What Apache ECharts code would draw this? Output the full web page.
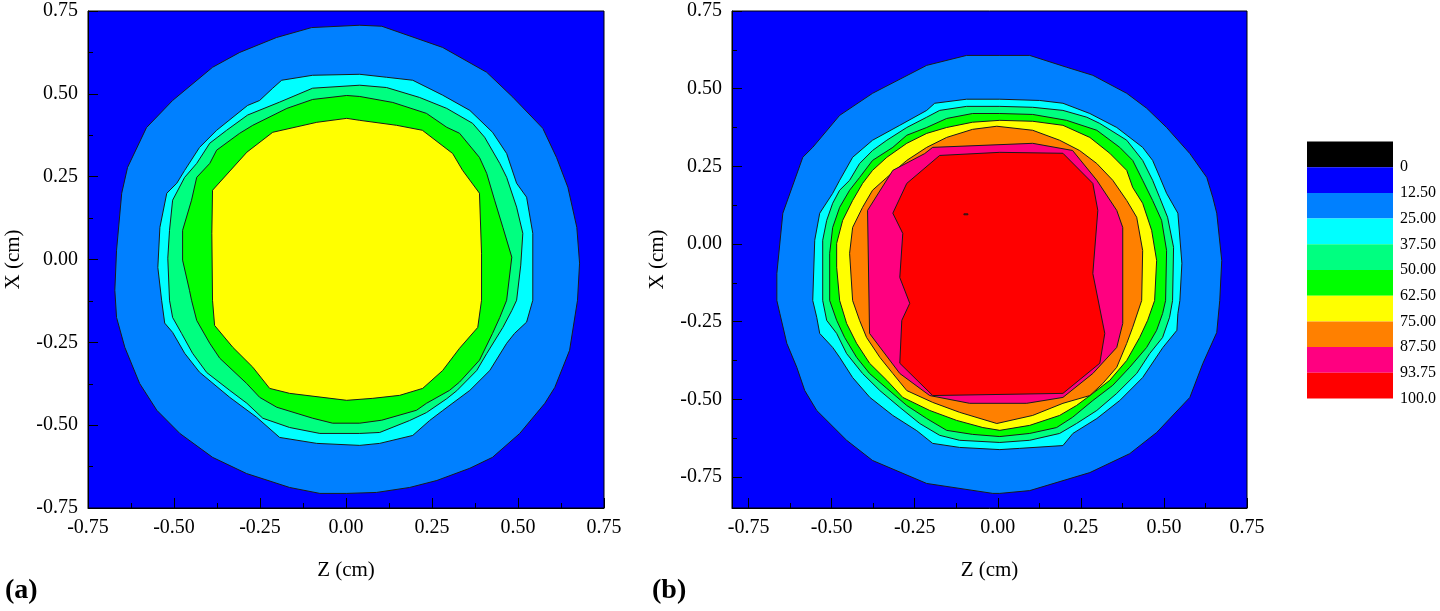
<!DOCTYPE html>
<html>
<head>
<meta charset="utf-8">
<script src="https://cdn.jsdelivr.net/npm/echarts@6/dist/echarts.min.js"></script>
<style>
html,body{margin:0;padding:0;background:#fff;}
#chart{width:1440px;height:611px;}
</style>
</head>
<body>
<div id="chart"></div>
<script>
// ---- legend / levels ----
const levelLabels = ['0','12.50','25.00','37.50','50.00','62.50','75.00','87.50','93.75','100.0'];
const levelColors = ['#000000','#0000ff','#0080ff','#00ffff','#00ff80','#00ff00','#ffff00','#ff8000','#ff0080','#ff0000'];
const tickValues = [-0.75,-0.5,-0.25,0,0.25,0.5,0.75];
const minorTickValues = [-0.625,-0.375,-0.125,0.125,0.375,0.625];

// ---- panel (a): contour boundaries [Z, X] in cm ----
const a12_5 = [[0.040,0.707],[0.104,0.704],[0.281,0.640],[0.409,0.565],[0.485,0.490],[0.572,0.396],[0.612,0.308],[0.645,0.218],[0.671,0.097],[0.679,-0.011],[0.673,-0.123],[0.650,-0.274],[0.607,-0.386],[0.578,-0.434],[0.505,-0.525],[0.426,-0.597],[0.360,-0.630],[0.264,-0.667],[0.185,-0.688],[0.089,-0.703],[0.002,-0.706],[-0.076,-0.706],[-0.164,-0.688],[-0.289,-0.646],[-0.388,-0.597],[-0.483,-0.525],[-0.550,-0.455],[-0.600,-0.374],[-0.643,-0.265],[-0.667,-0.175],[-0.672,-0.093],[-0.667,0.028],[-0.652,0.200],[-0.635,0.278],[-0.580,0.398],[-0.504,0.480],[-0.388,0.580],[-0.309,0.625],[-0.202,0.670],[-0.100,0.700]];
const a25 = [[0.040,0.559],[0.118,0.550],[0.194,0.541],[0.281,0.496],[0.360,0.450],[0.426,0.384],[0.467,0.320],[0.496,0.230],[0.525,0.188],[0.543,0.079],[0.543,-0.123],[0.525,-0.189],[0.490,-0.223],[0.467,-0.253],[0.418,-0.335],[0.360,-0.395],[0.281,-0.456],[0.243,-0.486],[0.194,-0.531],[0.098,-0.555],[0.040,-0.561],[-0.085,-0.555],[-0.193,-0.537],[-0.260,-0.476],[-0.338,-0.416],[-0.426,-0.340],[-0.469,-0.283],[-0.504,-0.220],[-0.527,-0.192],[-0.536,-0.123],[-0.547,-0.024],[-0.541,0.097],[-0.521,0.200],[-0.492,0.230],[-0.469,0.269],[-0.426,0.338],[-0.376,0.390],[-0.286,0.465],[-0.251,0.480],[-0.213,0.517],[-0.187,0.541],[-0.097,0.556]];
const a37_5 = [[0.040,0.526],[0.118,0.519],[0.214,0.489],[0.293,0.456],[0.368,0.411],[0.403,0.369],[0.447,0.290],[0.467,0.248],[0.496,0.158],[0.514,0.079],[0.508,-0.017],[0.496,-0.123],[0.482,-0.154],[0.456,-0.205],[0.409,-0.284],[0.380,-0.335],[0.322,-0.396],[0.293,-0.420],[0.234,-0.462],[0.185,-0.486],[0.098,-0.522],[0.040,-0.525],[-0.076,-0.525],[-0.164,-0.507],[-0.242,-0.479],[-0.288,-0.434],[-0.338,-0.395],[-0.405,-0.341],[-0.446,-0.283],[-0.478,-0.223],[-0.504,-0.175],[-0.513,-0.123],[-0.518,0.004],[-0.513,0.088],[-0.504,0.179],[-0.469,0.248],[-0.434,0.290],[-0.396,0.351],[-0.347,0.390],[-0.286,0.436],[-0.193,0.475],[-0.097,0.517]];
const a50 = [[0.040,0.492],[0.136,0.474],[0.234,0.441],[0.293,0.399],[0.330,0.381],[0.388,0.308],[0.409,0.260],[0.432,0.179],[0.456,0.097],[0.482,0.007],[0.467,-0.123],[0.447,-0.175],[0.426,-0.223],[0.388,-0.304],[0.330,-0.370],[0.301,-0.395],[0.234,-0.434],[0.205,-0.455],[0.104,-0.485],[0.040,-0.494],[-0.039,-0.494],[-0.097,-0.479],[-0.201,-0.446],[-0.251,-0.416],[-0.289,-0.374],[-0.367,-0.298],[-0.396,-0.253],[-0.434,-0.184],[-0.449,-0.123],[-0.455,-0.093],[-0.475,-0.002],[-0.475,0.088],[-0.449,0.179],[-0.434,0.248],[-0.396,0.290],[-0.376,0.330],[-0.309,0.381],[-0.271,0.405],[-0.172,0.456],[-0.097,0.483],[0.002,0.495]];
const a62_5 = [[0.040,0.420],[0.147,0.405],[0.222,0.390],[0.310,0.320],[0.339,0.269],[0.388,0.200],[0.394,0.019],[0.394,-0.123],[0.383,-0.205],[0.330,-0.268],[0.281,-0.335],[0.223,-0.389],[0.156,-0.410],[0.078,-0.419],[0.002,-0.425],[-0.164,-0.404],[-0.222,-0.389],[-0.271,-0.325],[-0.329,-0.265],[-0.382,-0.199],[-0.388,-0.123],[-0.390,0.079],[-0.388,0.209],[-0.288,0.324],[-0.213,0.384],[-0.085,0.414],[0.002,0.426]];

// ---- panel (b): contour boundaries [Z, X] in cm ----
const b12_5 = [[0.006,0.607],[0.096,0.607],[0.207,0.569],[0.286,0.543],[0.388,0.485],[0.448,0.437],[0.508,0.375],[0.578,0.291],[0.629,0.214],[0.647,0.150],[0.659,0.099],[0.674,-0.053],[0.668,-0.182],[0.659,-0.285],[0.617,-0.385],[0.578,-0.494],[0.478,-0.607],[0.397,-0.675],[0.277,-0.736],[0.096,-0.794],[0.006,-0.803],[-0.015,-0.803],[-0.214,-0.771],[-0.377,-0.697],[-0.455,-0.632],[-0.545,-0.536],[-0.581,-0.472],[-0.605,-0.397],[-0.635,-0.320],[-0.656,-0.224],[-0.665,-0.182],[-0.665,-0.095],[-0.647,0.099],[-0.587,0.279],[-0.557,0.311],[-0.476,0.414],[-0.377,0.485],[-0.214,0.575],[-0.094,0.607]];
const b25 = [[0.006,0.466],[0.126,0.462],[0.196,0.453],[0.277,0.420],[0.358,0.375],[0.436,0.311],[0.466,0.269],[0.488,0.214],[0.508,0.163],[0.542,0.099],[0.554,-0.062],[0.548,-0.182],[0.542,-0.224],[0.539,-0.278],[0.497,-0.333],[0.436,-0.430],[0.367,-0.504],[0.298,-0.562],[0.226,-0.610],[0.196,-0.649],[0.066,-0.658],[0.006,-0.662],[-0.115,-0.655],[-0.196,-0.642],[-0.244,-0.601],[-0.316,-0.552],[-0.385,-0.494],[-0.437,-0.430],[-0.476,-0.365],[-0.497,-0.333],[-0.536,-0.288],[-0.545,-0.236],[-0.557,-0.182],[-0.551,0.012],[-0.536,0.099],[-0.497,0.163],[-0.476,0.205],[-0.437,0.279],[-0.377,0.334],[-0.295,0.382],[-0.214,0.430],[-0.190,0.453],[-0.094,0.466]];
const b37_5 = [[0.006,0.443],[0.105,0.440],[0.196,0.430],[0.268,0.408],[0.307,0.388],[0.388,0.334],[0.436,0.269],[0.466,0.205],[0.487,0.150],[0.511,0.086],[0.529,-0.011],[0.526,-0.182],[0.517,-0.236],[0.496,-0.301],[0.457,-0.353],[0.418,-0.417],[0.358,-0.481],[0.298,-0.536],[0.237,-0.578],[0.186,-0.610],[0.096,-0.632],[0.006,-0.639],[-0.115,-0.632],[-0.175,-0.616],[-0.235,-0.578],[-0.295,-0.526],[-0.355,-0.472],[-0.407,-0.417],[-0.455,-0.353],[-0.485,-0.288],[-0.515,-0.246],[-0.527,-0.182],[-0.527,0.012],[-0.515,0.076],[-0.497,0.131],[-0.476,0.173],[-0.446,0.205],[-0.416,0.259],[-0.377,0.301],[-0.334,0.334],[-0.274,0.375],[-0.214,0.408],[-0.175,0.430],[-0.094,0.443]];
const b50 = [[0.006,0.420],[0.105,0.417],[0.207,0.398],[0.298,0.366],[0.367,0.311],[0.406,0.269],[0.436,0.205],[0.466,0.140],[0.493,0.076],[0.508,-0.021],[0.505,-0.182],[0.496,-0.224],[0.478,-0.278],[0.448,-0.333],[0.397,-0.397],[0.346,-0.455],[0.286,-0.504],[0.225,-0.558],[0.177,-0.591],[0.096,-0.610],[0.006,-0.620],[-0.076,-0.613],[-0.154,-0.600],[-0.214,-0.562],[-0.274,-0.520],[-0.334,-0.465],[-0.386,-0.417],[-0.425,-0.365],[-0.461,-0.301],[-0.485,-0.246],[-0.506,-0.182],[-0.506,-0.030],[-0.497,0.053],[-0.476,0.118],[-0.446,0.173],[-0.416,0.214],[-0.377,0.269],[-0.316,0.311],[-0.274,0.350],[-0.214,0.375],[-0.154,0.404],[-0.076,0.420]];
const b62_5 = [[0.006,0.398],[0.105,0.395],[0.196,0.382],[0.277,0.343],[0.337,0.292],[0.388,0.237],[0.406,0.182],[0.436,0.131],[0.463,0.044],[0.478,-0.053],[0.472,-0.182],[0.451,-0.246],[0.427,-0.301],[0.388,-0.375],[0.337,-0.439],[0.286,-0.481],[0.237,-0.520],[0.186,-0.552],[0.096,-0.584],[0.006,-0.600],[-0.045,-0.591],[-0.124,-0.568],[-0.205,-0.536],[-0.286,-0.494],[-0.334,-0.439],[-0.386,-0.384],[-0.425,-0.320],[-0.455,-0.256],[-0.476,-0.182],[-0.485,-0.075],[-0.485,0.002],[-0.467,0.076],[-0.437,0.140],[-0.407,0.195],[-0.377,0.237],[-0.334,0.279],[-0.274,0.324],[-0.214,0.356],[-0.154,0.375],[-0.076,0.392]];
const b75 = [[-0.003,0.379],[0.105,0.366],[0.186,0.334],[0.246,0.301],[0.298,0.259],[0.346,0.205],[0.388,0.140],[0.418,0.086],[0.436,-0.021],[0.433,-0.182],[0.406,-0.268],[0.388,-0.320],[0.358,-0.397],[0.316,-0.449],[0.277,-0.488],[0.196,-0.513],[0.105,-0.552],[-0.003,-0.578],[-0.115,-0.542],[-0.196,-0.510],[-0.274,-0.472],[-0.316,-0.417],[-0.355,-0.365],[-0.395,-0.301],[-0.416,-0.246],[-0.437,-0.182],[-0.446,-0.030],[-0.437,0.053],[-0.407,0.118],[-0.377,0.173],[-0.334,0.214],[-0.274,0.269],[-0.214,0.311],[-0.154,0.343],[-0.076,0.369]];
const b87_5 = [[-0.220,0.291],[-0.196,0.311],[0.105,0.324],[0.225,0.301],[0.298,0.205],[0.358,0.108],[0.376,0.053],[0.376,-0.256],[0.358,-0.333],[0.286,-0.417],[0.196,-0.494],[0.087,-0.513],[-0.085,-0.513],[-0.205,-0.488],[-0.295,-0.417],[-0.386,-0.288],[-0.392,0.108],[-0.316,0.237]];
const b93_75 = [[-0.175,0.285],[0.006,0.295],[0.196,0.292],[0.286,0.195],[0.301,0.108],[0.286,-0.095],[0.322,-0.288],[0.307,-0.384],[0.196,-0.481],[-0.196,-0.488],[-0.295,-0.384],[-0.289,-0.246],[-0.265,-0.191],[-0.295,-0.108],[-0.286,0.034],[-0.316,0.099],[-0.274,0.195]];
const bSpot = [[-0.102,0.097],[-0.090,0.097],[-0.090,0.094],[-0.102,0.094]];

// ring lists (colour index into levelColors)
const ringsA = [
  {pts:a12_5, c:2},{pts:a25, c:3},{pts:a37_5, c:4},{pts:a50, c:5},{pts:a62_5, c:6}
];
const ringsB = [
  {pts:b12_5, c:2},{pts:b25, c:3},{pts:b37_5, c:4},{pts:b50, c:5},{pts:b62_5, c:6},
  {pts:b75, c:7},{pts:b87_5, c:8},{pts:b93_75, c:9},{pts:bSpot, c:9}
];

const FONT = 'Liberation Serif';
const txt = {fontFamily: FONT, color:'#000', fontSize:20};

function ringRenderer(rings){
  return function(params, api){
    const r = rings[params.dataIndex];
    const pts = r.pts.map(p => api.coord(p));
    return {type:'polygon', shape:{points:pts},
      style:{fill: levelColors[r.c], stroke:'#1a1a1a', lineWidth:1}};
  };
}

function mainX(grid, min, max){
  return [{
    gridIndex:grid, type:'value', min:min, max:max, position:'bottom',
    axisLine:{show:true, onZero:false, lineStyle:{color:'#000', width:1}},
    axisTick:{show:true, inside:true, length:10, customValues:tickValues, lineStyle:{color:'#000'}},
    axisLabel:{show:true, customValues:tickValues, formatter:v=>v.toFixed(2), margin:10, ...txt},
    splitLine:{show:false},
    name:'Z (cm)', nameLocation:'middle', nameGap:52, nameTextStyle:{...txt, fontSize:21}
  },{
    gridIndex:grid, type:'value', min:min, max:max, position:'bottom',
    axisLine:{show:false, onZero:false},
    axisTick:{show:true, inside:true, length:5, customValues:minorTickValues, lineStyle:{color:'#000'}},
    axisLabel:{show:false}, splitLine:{show:false}
  }];
}
function mainY(grid, min, max){
  return [{
    gridIndex:grid, type:'value', min:min, max:max, position:'left',
    axisLine:{show:true, onZero:false, lineStyle:{color:'#000', width:1}},
    axisTick:{show:true, inside:true, length:10, customValues:tickValues, lineStyle:{color:'#000'}},
    axisLabel:{show:true, customValues:tickValues, formatter:v=>v.toFixed(2), margin:10, ...txt},
    splitLine:{show:false},
    name:'X (cm)', nameLocation:'middle', nameGap:64, nameTextStyle:{...txt, fontSize:21}
  },{
    gridIndex:grid, type:'value', min:min, max:max, position:'left',
    axisLine:{show:false, onZero:false},
    axisTick:{show:true, inside:true, length:5, customValues:minorTickValues, lineStyle:{color:'#000'}},
    axisLabel:{show:false}, splitLine:{show:false}
  }];
}

const chart = echarts.init(document.getElementById('chart'), null, {renderer:'canvas'});
const option = {
  animation:false,
  backgroundColor:'#ffffff',
  title:[
    {text:'(a)', left:5, top:577, padding:0, textStyle:{fontFamily:FONT, fontWeight:'bold', fontSize:28, color:'#000'}},
    {text:'(b)', left:652, top:577, padding:0, textStyle:{fontFamily:FONT, fontWeight:'bold', fontSize:28, color:'#000'}}
  ],
  grid:[
    {left:88, top:11, width:516, height:497, show:true, backgroundColor:levelColors[1], borderColor:'#000', borderWidth:1},
    {left:732, top:11, width:515, height:497, show:true, backgroundColor:levelColors[1], borderColor:'#000', borderWidth:1},
    {left:1307, top:141.5, width:86, height:257, show:false}
  ],
  xAxis:[
    ...mainX(0,-0.75,0.75),
    ...mainX(1,-0.8,0.75),
    {gridIndex:2, type:'value', min:0, max:1, show:false}
  ],
  yAxis:[
    ...mainY(0,-0.75,0.75),
    ...mainY(1,-0.85,0.75),
    {gridIndex:2, type:'value', min:0, max:10, inverse:true, position:'right',
     axisLine:{show:false}, axisTick:{show:false}, splitLine:{show:false},
     axisLabel:{show:true, customValues:[1,2,3,4,5,6,7,8,9,10], formatter:v=>levelLabels[v-1],
       margin:7, fontFamily:FONT, fontSize:16, color:'#000', padding:[6,0,0,0]}}
  ],
  series:[
    {type:'custom', xAxisIndex:0, yAxisIndex:0, clip:true, renderItem:ringRenderer(ringsA),
     data:ringsA.map((r,i)=>[0,0,i]), silent:true},
    {type:'custom', xAxisIndex:2, yAxisIndex:2, clip:true, renderItem:ringRenderer(ringsB),
     data:ringsB.map((r,i)=>[0,0,i]), silent:true},
    {type:'custom', xAxisIndex:4, yAxisIndex:4, silent:true,
     renderItem:function(params, api){
       const i = params.dataIndex;
       const p0 = api.coord([0, i]);
       const p1 = api.coord([1, i+1]);
       return {type:'rect', shape:{x:p0[0], y:p0[1], width:p1[0]-p0[0], height:p1[1]-p0[1]},
         style:{fill:levelColors[i]}};
     },
     data:levelColors.map((c,i)=>[0.5, i+0.5])}
  ]
};
chart.setOption(option);
</script>
</body>
</html>
